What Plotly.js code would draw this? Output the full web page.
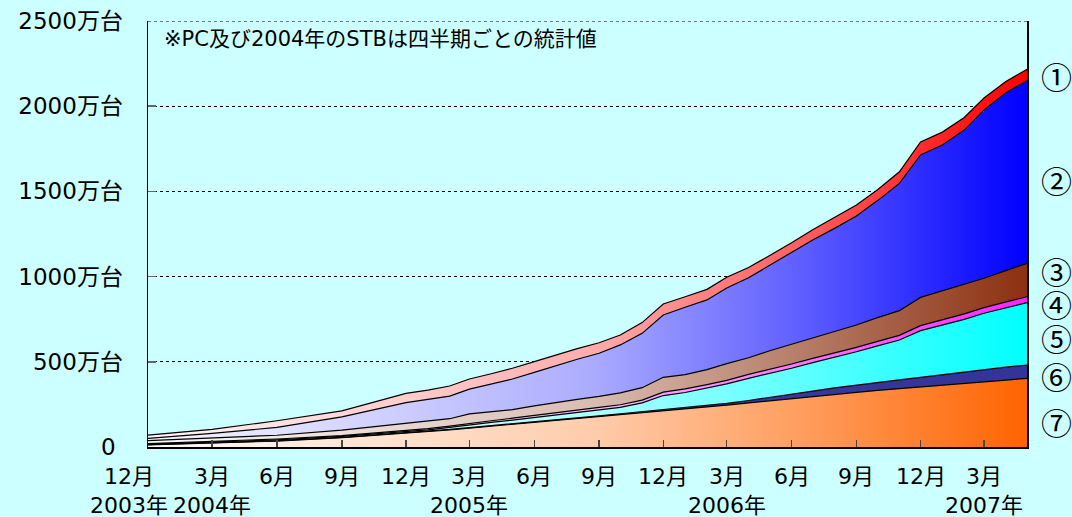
<!DOCTYPE html>
<html><head><meta charset="utf-8">
<script src="https://cdn.plot.ly/plotly-3.0.1.min.js"></script>
<style>html,body{margin:0;padding:0;background:#CCFFFF;overflow:hidden;}</style>
</head><body><div id="chart" style="width:1072px;height:517px;"></div>
<script>
// x points: 2004 quarterly, monthly from 2005
const months = ['2003-12-01','2004-03-01','2004-06-01','2004-09-01','2004-12-01',
  '2005-01-01','2005-02-01','2005-03-01','2005-04-01','2005-05-01','2005-06-01','2005-07-01','2005-08-01','2005-09-01','2005-10-01','2005-11-01','2005-12-01',
  '2006-01-01','2006-02-01','2006-03-01','2006-04-01','2006-05-01','2006-06-01','2006-07-01','2006-08-01','2006-09-01','2006-10-01','2006-11-01','2006-12-01',
  '2007-01-01','2007-02-01','2007-03-01','2007-04-01','2007-05-01'];

// series values (万台), bottom to top
const s7 = [12,22,35,55,80, 90,100,111,122,133,144,155,167,178,190,201,213, 224,235,246,259,272,286,298,310,321,332,343,354, 364,374,383,393,403];
const s6 = [2,2,2,2,2, 2,3,3,3,3,4,4,4,5,5,6,7, 8,9,10,14,18,23,30,37,43,47,51,55, 61,67,73,76,78];
const s5 = [3,4,5,5,7, 9,12,16,19,22,26,30,32,35,38,52,82, 88,100,114,130,140,153,167,179,195,214,234,274, 291,308,329,349,366];
const s4 = [3,4,5,5,6, 7,8,9,10,11,12,12,13,14,15,16,20, 21,22,21,23,24,25,25,26,26,27,27,29, 31,32,33,34,35];
const s3 = [17,19,22,32,44, 45,43,55,52,50,55,60,63,65,70,73,87, 84,88,98,98,111,117,122,127,131,139,145,166, 168,172,172,183,196];
const s2 = [14,29,46,78,121, 127,133,146,164,180,197,216,236,253,281,319,366, 395,409,444,469,501,536,573,604,640,687,747,836, 857,907,988,1044,1072];
const s1 = [19,24,39,35,55, 54,59,59,60,63,63,63,62,62,58,63,64, 62,62,63,60,58,58,60,63,64,64,68,76, 76,74,70,66,66];

const seriesLabels = ['⑦','⑥','⑤','④','③','②','①'];
const seriesValues = [s7,s6,s5,s4,s3,s2,s1];
const seriesColors = ['#FF6400','#333399','#00FFFF','#FF22FF','#8C3010','#0000FF','#FF0000'];

const yTickVals = [0,500,1000,1500,2000,2500];
const yTickText = ['0\u00a0','500万台','1000万台','1500万台','2000万台','2500万台'];
const xTickVals = ['2003-12-01','2004-03-01','2004-06-01','2004-09-01','2004-12-01','2005-03-01','2005-06-01','2005-09-01','2005-12-01','2006-03-01','2006-06-01','2006-09-01','2006-12-01','2007-03-01'];
const xTickText = ['12月','3月','6月','9月','12月','3月','6月','9月','12月','3月','6月','9月','12月','3月'];
const xYearText = ['2003年','2004年','','','','2005年','','','','2006年','','','','2007年'];
const labelY = [0.873,0.627,0.415,0.338,0.258,0.169,0.059]; // ① .. ⑦ positions (paper)
const noteText = '※PC及び2004年のSTBは四半期ごとの統計値';

const FONT = 'DejaVu Sans, "Noto Sans CJK JP", sans-serif';

function hexToRgb(h){h=h.replace('#','');return [parseInt(h.substr(0,2),16),parseInt(h.substr(2,2),16),parseInt(h.substr(4,2),16)];}
function mix(c,t){const r=hexToRgb(c);const m=r.map(v=>Math.round(255+(v-255)*t));return 'rgb('+m.join(',')+')';}
function scale(c){return [[0,mix(c,0.03)],[0.5,mix(c,0.32)],[0.75,mix(c,0.64)],[1,mix(c,1)]];}

const traces = seriesValues.map((vals,k)=>{
  const c = seriesColors[k];
  const t = {x:months,y:vals,type:'scatter',mode:'lines',stackgroup:'one',name:seriesLabels[k],
    line:{color:'#000',width:1.2},hoverinfo:'skip'};
  if (k===1) { t.fillgradient={type:'horizontal',colorscale:[[0,'#B8B8E0'],[0.6,'#3A3A98'],[1,'#333399']]}; }
  else { t.fillgradient={type:'horizontal',colorscale:scale(c)}; }
  return t;
});

const annotations = [];
xTickVals.forEach((v,i)=>{
  const txt = xYearText[i] ? xTickText[i]+'<br>'+xYearText[i] : xTickText[i];
  annotations.push({x:v,xref:'x',y:-0.038,yref:'paper',text:txt,showarrow:false,align:'center',
    xanchor:'center',yanchor:'top',borderpad:0,xshift:i===0?-19:0,font:{size:22,family:FONT,color:'#000'}});
});
seriesLabels.slice().reverse().forEach((lab,i)=>annotations.push({x:1.034,xref:'paper',y:labelY[i],yref:'paper',text:lab,showarrow:false,
  xanchor:'center',yanchor:'middle',valign:'middle',borderpad:0,height:33,font:{size:31,family:'"Noto Sans CJK JP", sans-serif',color:'#000'}}));
annotations.push({x:0.016,xref:'paper',y:0.958,yref:'paper',text:noteText,showarrow:false,xanchor:'left',yanchor:'middle',
  font:{size:21,family:FONT,color:'#000'}});

const layout = {
  width:1072,height:517,
  margin:{l:148,r:45,t:21,b:70},
  paper_bgcolor:'#CCFFFF',plot_bgcolor:'#CCFFFF',
  showlegend:false,
  font:{family:FONT,color:'#000'},
  xaxis:{type:'date',range:['2003-12-01','2007-05-01'],tickvals:xTickVals,showticklabels:false,
    ticks:'inside',ticklen:7,tickwidth:1.5,tickcolor:'#444',showline:true,linecolor:'#000',linewidth:2,
    showgrid:false,zeroline:false,fixedrange:true},
  yaxis:{range:[0,2500],tickvals:yTickVals,ticktext:yTickText,ticks:'inside',ticklen:8,tickcolor:'#666',tickwidth:1.5,
    showline:true,mirror:true,linecolor:'#000',linewidth:1.5,showgrid:true,gridcolor:'#000',gridwidth:1,griddash:'3px,3px',
    zeroline:false,tickfont:{size:23,family:FONT,color:'#000'},ticklabelstandoff:19,fixedrange:true},
  annotations:annotations,
  shapes:[{type:'line',xref:'paper',yref:'y',x0:0,x1:1,y0:2500,y1:2500,line:{color:'#000',width:1,dash:'3px,3px'}}]
};

Plotly.newPlot('chart',traces,layout,{staticPlot:true,displayModeBar:false});
</script></body></html>
